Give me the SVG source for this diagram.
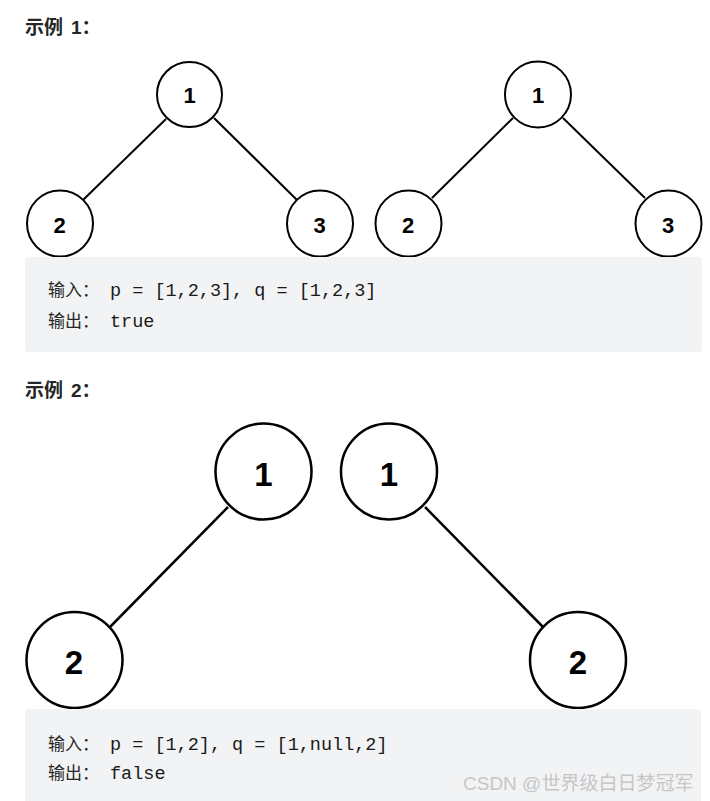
<svg xmlns="http://www.w3.org/2000/svg" width="710" height="801" viewBox="0 0 710 801">
<style>
.bg{fill:#ffffff}
.box{fill:#f2f3f5}
.head{font-family:"Liberation Sans","Noto Sans CJK SC",sans-serif;font-weight:bold;font-size:19px;fill:#262626}
.node1 circle{fill:#ffffff;stroke:#000000;stroke-width:2}
.node2 circle{fill:#ffffff;stroke:#000000;stroke-width:2.5}
.lbl1{font-family:"Liberation Sans",Arial,sans-serif;font-weight:bold;font-size:22px;fill:#000000;text-anchor:middle}
.lbl2{font-family:"Liberation Sans",Arial,sans-serif;font-weight:bold;font-size:33px;fill:#000000;text-anchor:middle}
.e1{stroke:#000000;stroke-width:2;fill:none}
.e2{stroke:#000000;stroke-width:2.5;fill:none}
.cn{font-family:"Noto Sans CJK SC",sans-serif;font-size:17px;fill:#262626}
.mono{font-family:"Liberation Mono","DejaVu Sans Mono",monospace;font-size:18.5px;fill:#1a1a1a}
.wm{font-family:"Liberation Sans","Noto Sans CJK SC",sans-serif;font-size:19px;fill:#c6c6c6}
</style>
<rect class="bg" x="0" y="0" width="710" height="801"/>

<g id="heading1">
<text class="head" y="34"><tspan x="25">示例</tspan><tspan x="71">1：</tspan></text>
</g>

<g id="connectors">
<line class="e1" x1="166" y1="119" x2="83" y2="200"/>
<line class="e1" x1="214" y1="118" x2="297" y2="200"/>
<line class="e1" x1="513" y1="118" x2="432" y2="198"/>
<line class="e1" x1="563" y1="118" x2="645" y2="198"/>
<line class="e2" x1="228" y1="507" x2="110" y2="627"/>
<line class="e2" x1="425" y1="507" x2="543" y2="627"/>
</g>

<g id="ex1-p-1" class="node1"><circle cx="189.5" cy="94.5" r="32.5"/><text class="lbl1" x="189.5" y="103">1</text></g>
<g id="ex1-p-2" class="node1"><circle cx="60" cy="223.5" r="33"/><text class="lbl1" x="59.5" y="233">2</text></g>
<g id="ex1-p-3" class="node1"><circle cx="320" cy="223.5" r="33"/><text class="lbl1" x="319.5" y="233">3</text></g>
<g id="ex1-q-1" class="node1"><circle cx="538" cy="94.5" r="33"/><text class="lbl1" x="538" y="103">1</text></g>
<g id="ex1-q-2" class="node1"><circle cx="408.5" cy="223.5" r="33"/><text class="lbl1" x="408" y="233">2</text></g>
<g id="ex1-q-3" class="node1"><circle cx="668.5" cy="223.5" r="33"/><text class="lbl1" x="668" y="233">3</text></g>

<g id="box1">
<rect class="box" x="25" y="257" width="677" height="95" rx="4"/>
<text class="cn" x="48" y="296">输入：</text><text class="mono" x="110" y="296" xml:space="preserve">p = [1,2,3], q = [1,2,3]</text>
<text class="cn" x="48" y="327">输出：</text><text class="mono" x="110" y="327">true</text>
</g>

<g id="heading2">
<text class="head" y="397"><tspan x="25">示例</tspan><tspan x="71">2：</tspan></text>
</g>

<g id="ex2-p-1" class="node2"><circle cx="263.5" cy="471.5" r="48"/><text class="lbl2" x="263.5" y="486">1</text></g>
<g id="ex2-p-2" class="node2"><circle cx="74.5" cy="660" r="48"/><text class="lbl2" x="74" y="674">2</text></g>
<g id="ex2-q-1" class="node2"><circle cx="389" cy="471.5" r="48"/><text class="lbl2" x="389" y="486">1</text></g>
<g id="ex2-q-2" class="node2"><circle cx="578" cy="660" r="48"/><text class="lbl2" x="578" y="674">2</text></g>

<g id="box2">
<rect class="box" x="25" y="709" width="676" height="96" rx="4"/>
<text class="cn" x="48" y="750">输入：</text><text class="mono" x="110" y="750" xml:space="preserve">p = [1,2], q = [1,null,2]</text>
<text class="cn" x="48" y="779">输出：</text><text class="mono" x="110" y="779">false</text>
</g>

<g id="watermark">
<text class="wm" x="463" y="790">CSDN @世界级白日梦冠军</text>
</g>
</svg>
